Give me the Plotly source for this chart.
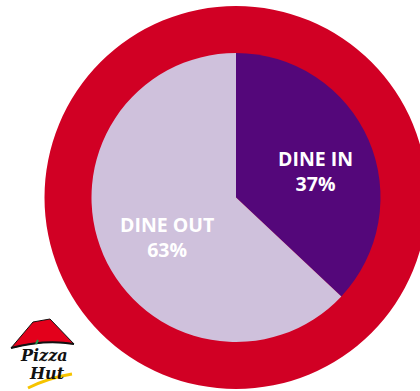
import plotly.graph_objects as go

# Share of Pizza Hut visits
categories = ["DINE IN", "DINE OUT"]
shares = [37, 63]
slice_colors = ["#54077A", "#CFC1DC"]

W, H = 420, 391
RING_RED = "#D10024"

# Pie geometry in pixels (origin top-left)
cx, cy = 236, 197.5
r_pie = 144.5
r_ring = 191.5

fig = go.Figure()

fig.add_trace(go.Pie(
    labels=categories,
    values=shares,
    sort=False,
    direction="clockwise",
    rotation=0,
    marker=dict(colors=slice_colors, line=dict(width=0)),
    textinfo="none",
    hoverinfo="label+percent",
    showlegend=False,
    domain=dict(
        x=[(cx - r_pie) / W, (cx + r_pie) / W],
        y=[(H - cy - r_pie) / H, (H - cy + r_pie) / H],
    ),
))

# Slice labels
label_pos = {"DINE IN": (315, 170.5), "DINE OUT": (167, 236.5)}
for cat, val in zip(categories, shares):
    x, y = label_pos[cat]
    fig.add_annotation(
        x=x, y=y, xref="x", yref="y",
        text=f"{cat}<br>{val}%",
        showarrow=False,
        font=dict(family="Open Sans", size=19.5, color="white", weight=700),
        align="center",
    )

shapes = [
    # red ring behind the pie
    dict(type="circle", xref="x", yref="y", layer="below",
         x0=cx - r_ring, x1=cx + r_ring, y0=cy - r_ring, y1=cy + r_ring,
         fillcolor=RING_RED, line=dict(width=0)),
    # logo roof
    dict(type="path", xref="x", yref="y", layer="above",
         path="M 11,348 L 33,322 L 50,319 L 74,344 Q 45,339 11,348 Z",
         fillcolor="#E3001B", line=dict(color="#111111", width=1)),
    dict(type="path", xref="x", yref="y", layer="above",
         path="M 11,348 Q 45,339 74,344",
         line=dict(color="#111111", width=2)),
    # green accent
    dict(type="path", xref="x", yref="y", layer="above",
         path="M 36,344 L 38,340",
         line=dict(color="#1F9A4B", width=2)),
    # yellow swoosh
    dict(type="path", xref="x", yref="y", layer="above",
         path="M 28,388 Q 48,378 72,374",
         line=dict(color="#F6C400", width=3)),
]

fig.add_annotation(x=44, y=355, xref="x", yref="y", text="<b><i>Pizza</i></b>",
                   showarrow=False,
                   font=dict(family="DejaVu Serif", size=16, color="#111111"))
fig.add_annotation(x=47, y=373, xref="x", yref="y", text="<b><i>Hut</i></b>",
                   showarrow=False,
                   font=dict(family="DejaVu Serif", size=16, color="#111111"))

fig.update_layout(
    width=W, height=H,
    margin=dict(l=0, r=0, t=0, b=0),
    paper_bgcolor="white",
    plot_bgcolor="white",
    shapes=shapes,
    xaxis=dict(range=[0, W], visible=False, fixedrange=True),
    yaxis=dict(range=[H, 0], visible=False, fixedrange=True),
)

fig.write_html("out.html")
